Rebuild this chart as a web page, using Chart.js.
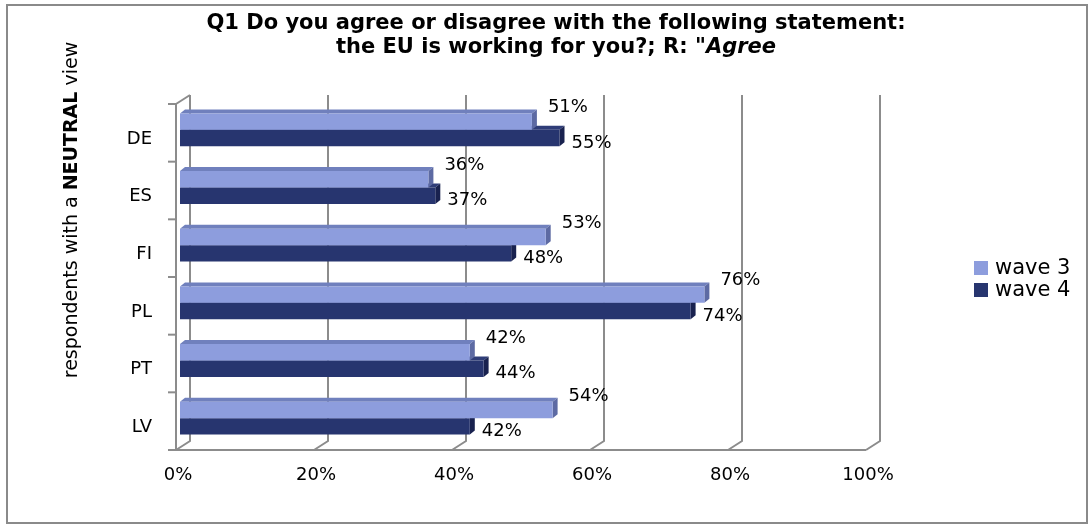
<!DOCTYPE html>
<html>
<head>
<meta charset="utf-8">
<script src="https://cdn.jsdelivr.net/npm/chart.js@4/dist/chart.umd.min.js"></script>
<style>
  html, body { margin: 0; padding: 0; background: #ffffff; }
  #wrap { width: 1088px; height: 525px; position: relative; }
</style>
</head>
<body>
<div id="wrap"><canvas id="c" width="1088" height="525"></canvas></div>
<script>
// Survey answers: share who agree, by country and wave
const categories = ['DE', 'ES', 'FI', 'PL', 'PT', 'LV'];
const wave3 = [51, 36, 53, 76, 42, 54];
const wave4 = [55, 37, 48, 74, 44, 42];
const seriesNames = ['wave 3', 'wave 4'];
const xTickValues = [0, 20, 40, 60, 80, 100];
const xTickLabels = ['0%', '20%', '40%', '60%', '80%', '100%'];

const FONT = '"DejaVu Sans", Verdana, sans-serif';

// Colours for each series: front face, top face, side face
const palette = [
  { front: '#8d9ddd', top: '#7080bd', side: '#5d6aa3' },
  { front: '#27356f', top: '#2f3d78', side: '#19224f' }
];

// Depth of the pseudo-3D bars and of the wall/floor
const BAR_DEPTH = { dx: 5, dy: -4 };
const BACK = { dx: 10, dy: -6 };
const FRONT = { dx: -4, dy: 3 };
const GRID = '#8c8c8c';

function drawFrame(chart) {
  const ctx = chart.ctx;
  const xs = chart.scales.x;
  const a = chart.chartArea;
  ctx.save();
  // outer border of the chart
  ctx.strokeStyle = '#8a8a8a';
  ctx.lineWidth = 2;
  ctx.strokeRect(7, 5, 1080, 518);

  ctx.strokeStyle = GRID;
  ctx.lineWidth = 2;
  // back wall gridlines
  xTickValues.forEach(v => {
    const px = xs.getPixelForValue(v);
    ctx.beginPath();
    ctx.moveTo(px + BACK.dx, a.top + BACK.dy);
    ctx.lineTo(px + BACK.dx, a.bottom + BACK.dy);
    // floor connector to the front axis
    ctx.lineTo(px + FRONT.dx, a.bottom + FRONT.dy);
    ctx.stroke();
  });
  // top-left corner of the side wall
  const x0 = xs.getPixelForValue(0);
  ctx.beginPath();
  ctx.moveTo(x0 + FRONT.dx, a.top + FRONT.dy);
  ctx.lineTo(x0 + BACK.dx, a.top + BACK.dy);
  ctx.stroke();
  // front value axis
  ctx.beginPath();
  ctx.moveTo(x0 + FRONT.dx, a.bottom + FRONT.dy);
  ctx.lineTo(xs.getPixelForValue(100) + FRONT.dx, a.bottom + FRONT.dy);
  ctx.stroke();
  // front category axis with tick marks between categories
  ctx.beginPath();
  ctx.moveTo(x0 + FRONT.dx, a.top + FRONT.dy);
  ctx.lineTo(x0 + FRONT.dx, a.bottom + FRONT.dy);
  ctx.stroke();
  const band = (a.bottom - a.top) / categories.length;
  for (let i = 0; i <= categories.length; i++) {
    const y = a.top + FRONT.dy + i * band;
    ctx.beginPath();
    ctx.moveTo(x0 + FRONT.dx - 8, y);
    ctx.lineTo(x0 + FRONT.dx, y);
    ctx.stroke();
  }
  ctx.restore();
}

function drawBarDepth(chart) {
  const ctx = chart.ctx;
  const d = BAR_DEPTH;
  ctx.save();
  [1, 0].forEach(di => {
    const meta = chart.getDatasetMeta(di);
    const col = palette[di];
    meta.data.forEach(bar => {
      const p = bar.getProps(['x', 'y', 'base', 'height'], true);
      const top = p.y - p.height / 2, bottom = p.y + p.height / 2;
      const l = p.base, r = p.x;
      // top face
      ctx.fillStyle = col.top;
      ctx.beginPath();
      ctx.moveTo(l, top);
      ctx.lineTo(l + d.dx, top + d.dy);
      ctx.lineTo(r + d.dx, top + d.dy);
      ctx.lineTo(r, top);
      ctx.closePath();
      ctx.fill();
      // side face
      ctx.fillStyle = col.side;
      ctx.beginPath();
      ctx.moveTo(r, top);
      ctx.lineTo(r + d.dx, top + d.dy);
      ctx.lineTo(r + d.dx, bottom + d.dy);
      ctx.lineTo(r, bottom);
      ctx.closePath();
      ctx.fill();
    });
  });
  ctx.restore();
}

function drawTexts(chart) {
  const ctx = chart.ctx;
  const xs = chart.scales.x, ys = chart.scales.y;
  ctx.save();
  ctx.fillStyle = '#000000';

  // value labels
  ctx.font = '18px ' + FONT;
  ctx.textBaseline = 'middle';
  ctx.textAlign = 'left';
  chart.data.datasets.forEach((ds, di) => {
    const meta = chart.getDatasetMeta(di);
    meta.data.forEach((bar, i) => {
      const p = bar.getProps(['x', 'y'], true);
      const txt = ds.data[i] + '%';
      if (di === 0) ctx.fillText(txt, p.x + 16, p.y - 14);
      else ctx.fillText(txt, p.x + 12, p.y + 5);
    });
  });

  // category labels
  ctx.font = '18px ' + FONT;
  ctx.textAlign = 'right';
  categories.forEach((c, i) => {
    ctx.fillText(c, 152, ys.getPixelForValue(i) + 9);
  });

  // value axis labels
  ctx.textAlign = 'center';
  xTickValues.forEach((v, i) => {
    ctx.fillText(xTickLabels[i], xs.getPixelForValue(v) - 2, 475);
  });

  // legend
  ctx.textAlign = 'left';
  ctx.font = '21px ' + FONT;
  seriesNames.forEach((name, i) => {
    const y = 268 + i * 22;
    ctx.fillStyle = palette[i].front;
    ctx.fillRect(974, y - 7, 14, 14);
    ctx.fillStyle = '#000000';
    ctx.fillText(name, 995, y + 1);
  });

  // title, two lines, second one ends in italics
  const cx = 556;
  const TF = 21;
  ctx.textAlign = 'left';
  ctx.font = 'bold ' + TF + 'px ' + FONT;
  const l1 = 'Q1 Do you agree or disagree with the following statement:';
  const w = ctx.measureText(l1).width;
  ctx.fillText(l1, cx - w / 2, 24);
  const l2a = 'the EU is working for you?; R: "';
  const l2b = 'Agree';
  const wa = ctx.measureText(l2a).width;
  ctx.font = 'italic bold ' + TF + 'px ' + FONT;
  const wb = ctx.measureText(l2b).width;
  const sx = cx - (wa + wb) / 2;
  ctx.font = 'bold ' + TF + 'px ' + FONT;
  ctx.fillText(l2a, sx, 48);
  ctx.font = 'italic bold ' + TF + 'px ' + FONT;
  ctx.fillText(l2b, sx + wa, 48);

  // vertical axis title with a bold word
  ctx.translate(72, 210);
  ctx.rotate(-Math.PI / 2);
  const parts = [
    ['respondents with a ', '19px '],
    ['NEUTRAL', 'bold 19px '],
    [' view', '19px ']
  ];
  let total = 0;
  parts.forEach(pt => { ctx.font = pt[1] + FONT; total += ctx.measureText(pt[0]).width; });
  let px = -total / 2;
  parts.forEach(pt => {
    ctx.font = pt[1] + FONT;
    ctx.fillText(pt[0], px, 0);
    px += ctx.measureText(pt[0]).width;
  });
  ctx.restore();
}

const pseudo3d = {
  id: 'pseudo3d',
  beforeDatasetsDraw(chart) {
    drawFrame(chart);
    drawBarDepth(chart);
  },
  afterDatasetsDraw(chart) {
    drawTexts(chart);
  }
};

new Chart(document.getElementById('c'), {
  type: 'bar',
  data: {
    labels: categories,
    datasets: [
      { label: seriesNames[0], data: wave3, backgroundColor: palette[0].front, borderWidth: 0 },
      { label: seriesNames[1], data: wave4, backgroundColor: palette[1].front, borderWidth: 0 }
    ]
  },
  options: {
    indexAxis: 'y',
    responsive: false,
    animation: false,
    layout: { padding: { left: 180, right: 218, top: 101, bottom: 78 } },
    datasets: { bar: { categoryPercentage: 0.57, barPercentage: 1.0 } },
    scales: {
      x: { min: 0, max: 100, display: false },
      y: { display: false }
    },
    plugins: {
      legend: { display: false },
      title: { display: false },
      tooltip: { enabled: false }
    }
  },
  plugins: [pseudo3d]
});
</script>
</body>
</html>
